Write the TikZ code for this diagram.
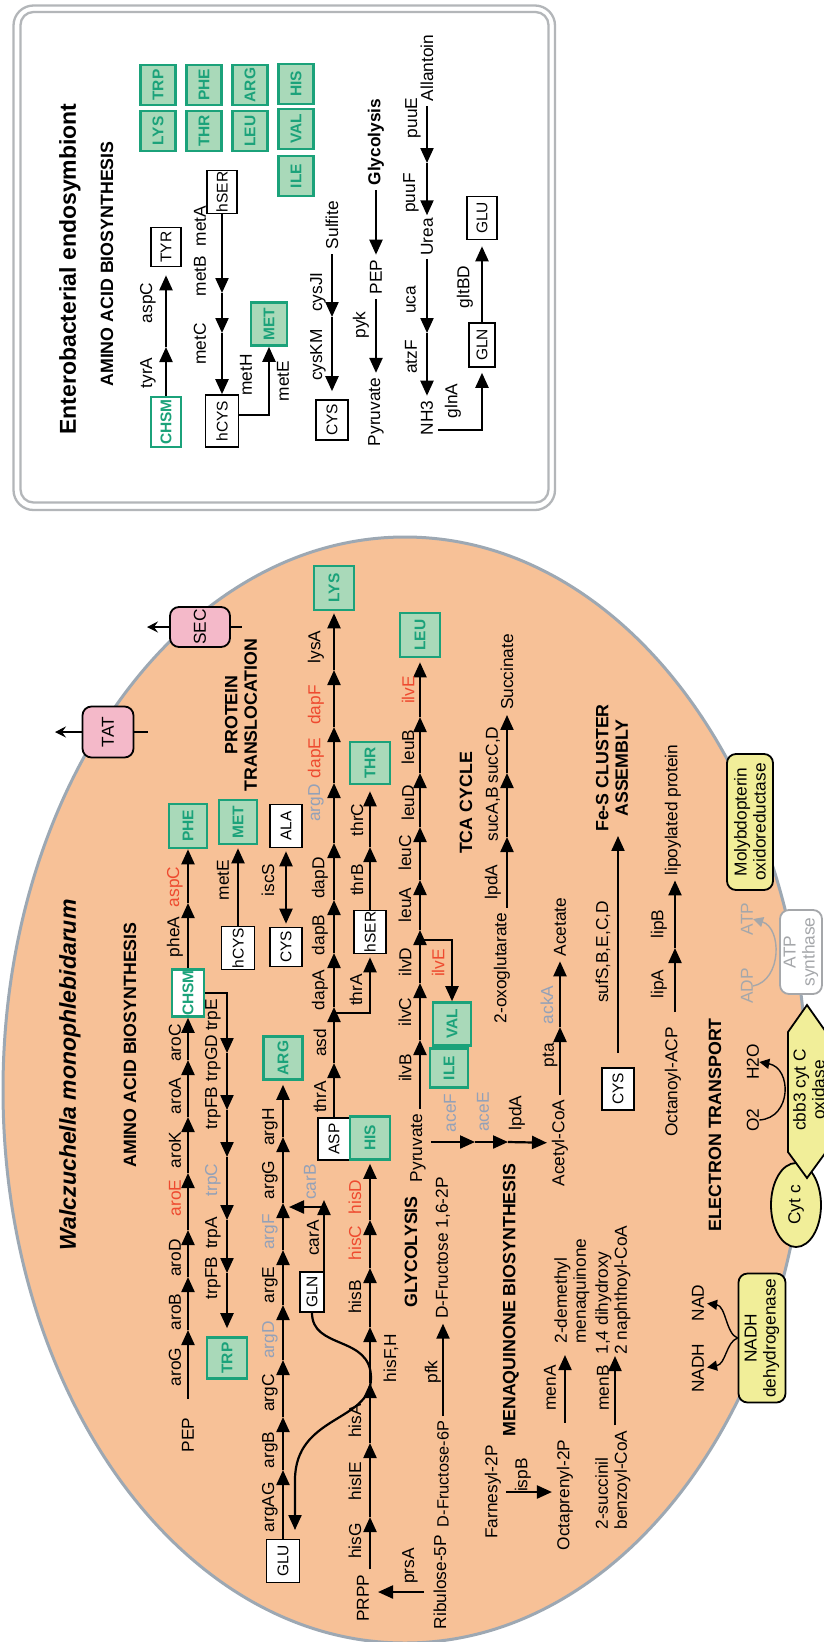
\documentclass[tikz,border=0pt]{standalone}
\usepackage{fontspec}
\setmainfont{Liberation Sans}
\usetikzlibrary{arrows.meta,shapes.geometric}
\definecolor{peach}{HTML}{F7C197}
\definecolor{memb}{HTML}{9DA8B3}
\definecolor{aag}{HTML}{1BA27A}
\definecolor{aaf}{HTML}{A9D9B9}
\definecolor{pinkb}{HTML}{F4B9C9}
\definecolor{yel}{HTML}{F1EE99}
\definecolor{redl}{HTML}{EE4A2F}
\definecolor{grayl}{HTML}{93A1B8}
\definecolor{atpg}{HTML}{A5A7AA}
\definecolor{frm}{HTML}{B3B6B9}
\newcommand\lfs{\fontsize{17.3}{19}\selectfont}
\newcommand\hfs{\fontsize{17.8}{19.5}\selectfont\bfseries}
\newcommand\bfs{\fontsize{15.5}{17}\selectfont}
\begin{document}
\begin{tikzpicture}[x=1pt,y=-1pt,
 lab/.style={rotate=90,inner sep=0pt,font=\lfs},
 mt/.style={lab,outer sep=5pt},
 hd/.style={rotate=90,inner sep=0pt,font=\hfs},
 rl/.style={lab,text=redl},
 gl/.style={lab,text=grayl},
 bx/.style={rotate=90,draw,line width=1.6pt,fill=white,inner sep=0.5pt,font=\bfs},
 aa/.style={rotate=90,draw=aag,line width=2.6pt,fill=aaf,text=aag,inner sep=0.5pt,font=\bfs\bfseries},
 aaw/.style={aa,fill=white},
 pw/.style={line width=2.2pt,-{Triangle[length=15pt,width=13pt]}},
 pwb/.style={line width=2.2pt,{Triangle[length=15pt,width=13pt]}-{Triangle[length=15pt,width=13pt]}},
 ta/.style={line width=1.4pt,-{Triangle[length=10pt,width=10pt]}},
 ex/.style={line width=1.4pt,-{Stealth[length=11pt,width=11pt,inset=4pt]}},
 mem/.style={rotate=90,draw,line width=1.8pt,rounded corners=9pt,inner sep=1pt,font=\lfs,align=center},
 fr/.style={draw=frm,line width=2.3pt},
]
\useasboundingbox (0,0) rectangle (824,1642);
\fill[white] (0,0) rectangle (824,1642);

% ================= INSET =================
\draw[fr,rounded corners=20pt] (13.5,5.5) rectangle (555,510);
\draw[fr,rounded corners=13pt] (20.5,12) rectangle (548.5,502.5);
\node[rotate=90,inner sep=0pt,font=\fontsize{23}{26}\selectfont\bfseries] (endo) at (70,269) {Enterobacterial endosymbiont};
\node[hd] (iaab) at (107,264) {AMINO ACID BIOSYNTHESIS};

\node[aa,minimum width=40pt,minimum height=35pt] (iTRP) at (158,85) {TRP};
\node[aa,minimum width=40pt,minimum height=35pt] (iLYS) at (158,131) {LYS};
\node[aa,minimum width=40pt,minimum height=35pt] (iPHE) at (204,85) {PHE};
\node[aa,minimum width=40pt,minimum height=35pt] (iTHR) at (204,131) {THR};
\node[aa,minimum width=40pt,minimum height=35pt] (iARG) at (250,85) {ARG};
\node[aa,minimum width=40pt,minimum height=35pt] (iLEU) at (250,131) {LEU};
\node[aa,minimum width=40pt,minimum height=35pt] (iHIS) at (296,84) {HIS};
\node[aa,minimum width=40pt,minimum height=35pt] (iVAL) at (296,129) {VAL};
\node[aa,minimum width=40pt,minimum height=35pt] (iILE) at (296,176) {ILE};

% row 1
\node[aaw,minimum width=50pt,minimum height=30pt] (iCHSM) at (166,422) {CHSM};
\node[bx,minimum width=39pt,minimum height=30pt] (iTYR) at (166,247) {TYR};
\coordinate (i1a) at (166,347);
\draw[pw] (iCHSM) -- (i1a);
\draw[pw,shorten >=8pt] (i1a) -- (iTYR);
\node[lab] (l-tyrA) at (148,373) {tyrA};
\node[lab] (l-aspCi) at (148,303) {aspC};
% row 2
\node[bx,minimum width=43pt,minimum height=30pt] (ihSER) at (222,192) {hSER};
\node[bx,minimum width=52pt,minimum height=33pt] (ihCYS) at (222,421) {hCYS};
\coordinate (i2a) at (222,293);
\coordinate (i2b) at (222,333);
\draw[pw] (ihSER) -- (i2a);
\draw[pw] (i2a) -- (i2b);
\draw[pw] (i2b) -- (ihCYS);
\node[lab] (l-metA) at (200,226) {metA};
\node[lab] (l-metB) at (200,276) {metB};
\node[lab] (l-metC) at (200,344) {metC};
\node[aa,minimum width=43pt,minimum height=36pt] (iMET) at (269,324) {MET};
\coordinate (i2c) at (269,415);
\draw[pw] (ihCYS.south |- i2c) -- (i2c) -- (iMET);
\node[lab] (l-metH) at (246,375) {metH};
\node[lab] (l-metEi) at (283,381) {metE};
% row 3
\node[mt] (iSulf) at (332,225) {Sulfite};
\coordinate (i3a) at (332,317);
\node[bx,minimum width=40pt,minimum height=32pt] (iCYS) at (332,420) {CYS};
\draw[pw] (iSulf) -- (i3a);
\draw[pw,shorten >=8pt] (i3a) -- (iCYS);
\node[lab] (l-cysJI) at (318,292) {cysJI};
\node[lab] (l-cysKM) at (318,355) {cysKM};
% row 4
\node[hd,outer sep=5pt,font=\lfs\bfseries] (iGly) at (376,142) {Glycolysis};
\node[mt] (iPEP) at (376,277) {PEP};
\node[mt] (iPyr) at (376,412) {Pyruvate};
\draw[pw] (iGly) -- (iPEP);
\draw[pw] (iPEP) -- (iPyr);
\node[lab] (l-pyk) at (361,325) {pyk};
% row 5
\node[mt] (iAll) at (427,68) {Allantoin};
\coordinate (i5a) at (427,163);
\node[mt,outer sep=3pt] (iUrea) at (427,237) {Urea};
\coordinate (i5b) at (427,333);
\node[mt] (iNH3) at (427,418) {NH3};
\draw[pw] (iAll) -- (i5a);
\draw[pw] (i5a) -- (iUrea);
\draw[pw] (iUrea) -- (i5b);
\draw[pw] (i5b) -- (iNH3);
\node[lab] (l-puuE) at (413,118) {puuE};
\node[lab] (l-puuF) at (411,193) {puuF};
\node[lab] (l-uca) at (411,300) {uca};
\node[lab] (l-atzF) at (411,357) {atzF};
% row 6
\node[bx,minimum width=43pt,minimum height=30pt] (iGLU) at (482,218) {GLU};
\node[bx,minimum width=44pt,minimum height=26pt] (iGLN) at (482,345) {GLN};
\draw[pw,shorten >=6pt] (iGLN) -- (iGLU);
\coordinate (i6a) at (482,430);
\draw[pw,shorten >=5pt] (iNH3.south |- i6a) -- (i6a) -- (iGLN);
\node[lab] (l-gltBD) at (465,287) {gltBD};
\node[lab] (l-glnA) at (453,401) {glnA};

% ================= CELL =================
\node[ellipse,draw=memb,line width=3pt,fill=peach,minimum width=804pt,minimum height=1106pt,inner sep=0pt] (cell) at (405,1090) {};
\node[rotate=90,inner sep=0pt,font=\fontsize{23}{26}\selectfont\bfseries\itshape] (title) at (70,1075) {Walczuchella monophlebidarum};
\node[hd] (aab) at (130,1045) {AMINO ACID BIOSYNTHESIS};
\node[hd,align=center] (ptl) at (241,715) {PROTEIN\\TRANSLOCATION};

% translocation
\node[mem,fill=pinkb,minimum width=51pt,minimum height=51pt] (TAT) at (108,732) {TAT};
\node[mem,fill=pinkb,minimum width=40pt,minimum height=60pt] (SEC) at (200,627) {SEC};
\coordinate (tatO) at (55,732);
\coordinate (tatI) at (148,732);
\coordinate (secO) at (147,627);
\coordinate (secI) at (242,627);
\draw[ex] (TAT) -- (tatO);
\draw[line width=1.4pt] (TAT) -- (tatI);
\draw[ex] (SEC) -- (secO);
\draw[line width=1.4pt] (SEC) -- (secI);

% aro
\node[mt] (PEP) at (188,1435) {PEP};
\coordinate (a1) at (188,1330);
\coordinate (a2) at (188,1277);
\coordinate (a3) at (188,1230);
\coordinate (a4) at (188,1173);
\coordinate (a5) at (188,1117);
\coordinate (a6) at (188,1060);
\node[aaw,minimum width=47pt,minimum height=32pt] (CHSM) at (188,993) {CHSM};
\coordinate (a7) at (188,903);
\node[aa,minimum width=44pt,minimum height=38pt] (PHE) at (188,826) {PHE};
\draw[pw,shorten <=14pt] (PEP) -- (a1);
\draw[pw] (a1) -- (a2);
\draw[pw] (a2) -- (a3);
\draw[pw] (a3) -- (a4);
\draw[pw] (a4) -- (a5);
\draw[pw] (a5) -- (a6);
\draw[pw] (a6) -- (CHSM);
\draw[pw] (CHSM) -- (a7);
\draw[pw] (a7) -- (PHE);
\node[lab] (l-aroG) at (175,1367) {aroG};
\node[lab] (l-aroB) at (175,1312) {aroB};
\node[lab] (l-aroD) at (175,1258) {aroD};
\node[rl] (l-aroE) at (175,1198) {aroE};
\node[lab] (l-aroK) at (175,1150) {aroK};
\node[lab] (l-aroA) at (175,1096) {aroA};
\node[lab] (l-aroC) at (175,1043) {aroC};
\node[lab] (l-pheA) at (175,937) {pheA};
\node[rl] (l-aspC) at (175,887) {aspC};

% trp
\coordinate (b0) at (227,993);
\coordinate (b1) at (227,1053);
\coordinate (b2) at (227,1110);
\coordinate (b3) at (227,1157);
\coordinate (b4) at (227,1220);
\coordinate (b5) at (227,1273);
\node[aa,minimum width=41pt,minimum height=40pt] (TRP) at (227,1358) {TRP};
\draw[pw] (CHSM.south) -- (b0) -- (b1);
\draw[pw] (b1) -- (b2);
\draw[pw] (b2) -- (b3);
\draw[pw] (b3) -- (b4);
\draw[pw] (b4) -- (b5);
\draw[pw,shorten >=8pt] (b5) -- (TRP);
\node[lab] (l-trpE) at (213,1015) {trpE};
\node[lab] (l-trpGD) at (213,1058) {trpGD};
\node[lab] (l-trpFB) at (213,1108) {trpFB};
\node[gl] (l-trpC) at (213,1180) {trpC};
\node[lab] (l-trpA) at (213,1233) {trpA};
\node[lab] (l-trpFB2) at (213,1278) {trpFB};

% met / iscS
\node[bx,minimum width=43pt,minimum height=33pt] (hCYSm) at (238,948) {hCYS};
\node[aa,minimum width=44pt,minimum height=38pt] (METm) at (238,822) {MET};
\draw[pw,shorten >=3pt] (hCYSm) -- (METm);
\node[lab] (l-metE) at (223,880) {metE};
\node[bx,minimum width=39pt,minimum height=32pt] (CYSm) at (286,947) {CYS};
\node[bx,minimum width=43pt,minimum height=32pt] (ALA) at (286,826) {ALA};
\draw[pwb,shorten >=3pt,shorten <=3pt] (CYSm) -- (ALA);
\node[lab] (l-iscS) at (268,880) {iscS};

% arg
\node[bx,minimum width=43pt,minimum height=33pt] (GLU) at (283,1561) {GLU};
\coordinate (c1) at (283,1470);
\coordinate (c2) at (283,1417);
\coordinate (c3) at (283,1360);
\coordinate (c4) at (283,1305);
\coordinate (c5) at (283,1250);
\coordinate (c6) at (283,1203);
\coordinate (c7) at (283,1137);
\node[aa,minimum width=43pt,minimum height=39pt] (ARG) at (283,1058) {ARG};
\draw[pw] (GLU) -- (c1);
\draw[pw] (c1) -- (c2);
\draw[pw] (c2) -- (c3);
\draw[pw] (c3) -- (c4);
\draw[pw] (c4) -- (c5);
\draw[pw] (c5) -- (c6);
\draw[pw] (c6) -- (c7);
\draw[pw,shorten >=4pt] (c7) -- (ARG);
\node[lab] (l-argAG) at (270,1507) {argAG};
\node[lab] (l-argB) at (270,1450) {argB};
\node[lab] (l-argC) at (270,1393) {argC};
\node[gl] (l-argD) at (270,1340) {argD};
\node[lab] (l-argE) at (270,1285) {argE};
\node[gl] (l-argF) at (270,1232) {argF};
\node[lab] (l-argG) at (270,1180) {argG};
\node[lab] (l-argH) at (270,1127) {argH};
% carA / GLN
\node[bx,minimum width=40pt,minimum height=24pt] (GLN) at (312,1292) {GLN};
\coordinate (carT) at (324,1200);
\coordinate (carJ) at (324,1207);
\coordinate (carE) at (289,1207);
\draw[pw] (GLN.east -| carT) -- (carT);
\draw[pw] (carJ) -- (carE);
\node[lab] (l-carA) at (313,1238) {carA};
\node[gl] (l-carB) at (310,1182) {carB};
\coordinate (gluIn) at (295,1530);
\draw[pw] (GLN.west) .. controls (312,1350) and (371,1335) .. (371,1378) .. controls (371,1422) and (295,1415) .. (295,1480) -- (gluIn);

% dap / lys
\node[bx,minimum width=42pt,minimum height=32pt] (ASP) at (334,1139) {ASP};
\coordinate (d1) at (334,1063);
\coordinate (d2) at (334,1007);
\coordinate (d3) at (334,953);
\coordinate (d4) at (334,900);
\coordinate (d5) at (334,843);
\coordinate (d6) at (334,783);
\coordinate (d7) at (334,727);
\coordinate (d8) at (334,670);
\node[aa,minimum width=44pt,minimum height=40pt] (LYS) at (334,588) {LYS};
\draw[pw] (ASP) -- (d1);
\draw[pw] (d1) -- (d2);
\draw[pw] (d2) -- (d3);
\draw[pw] (d3) -- (d4);
\draw[pw] (d4) -- (d5);
\draw[pw] (d5) -- (d6);
\draw[pw] (d6) -- (d7);
\draw[pw] (d7) -- (d8);
\draw[pw,shorten >=2pt] (d8) -- (LYS);
\node[lab] (l-thrA) at (320,1097) {thrA};
\node[lab] (l-asd) at (320,1043) {asd};
\node[lab] (l-dapA) at (320,990) {dapA};
\node[lab] (l-dapB) at (320,935) {dapB};
\node[lab] (l-dapD) at (320,878) {dapD};
\node[gl] (l-argD2) at (316,803) {argD};
\node[rl] (l-dapE) at (316,758) {dapE};
\node[rl] (l-dapF) at (316,705) {dapF};
\node[lab] (l-lysA) at (316,647) {lysA};
% thr
\coordinate (dj) at (334,1013);
\coordinate (dk) at (370,1013);
\node[bx,minimum width=43pt,minimum height=32pt] (hSERm) at (370,932) {hSER};
\draw[pw,shorten >=3pt] (dj) -- (dk) -- (hSERm);
\coordinate (e1) at (370,847);
\node[aa,minimum width=42pt,minimum height=40pt] (THR) at (370,763) {THR};
\draw[pw] (hSERm) -- (e1);
\draw[pw,shorten >=6pt] (e1) -- (THR);
\node[lab] (l-thrA2) at (356,990) {thrA};
\node[lab] (l-thrB) at (357,880) {thrB};
\node[lab] (l-thrC) at (357,820) {thrC};

% his
\node[mt] (PRPP) at (363,1598) {PRPP};
\coordinate (h1) at (370,1517);
\coordinate (h2) at (370,1443);
\coordinate (h3) at (370,1383);
\coordinate (h4) at (370,1327);
\coordinate (h5) at (370,1268);
\coordinate (h6) at (370,1220);
\node[aa,minimum width=43pt,minimum height=40pt] (HIS) at (370,1138) {HIS};
\draw[pw] (PRPP.east -| h1) -- (h1);
\draw[pw] (h1) -- (h2);
\draw[pw] (h2) -- (h3);
\draw[pw] (h3) -- (h4);
\draw[pw] (h4) -- (h5);
\draw[pw] (h5) -- (h6);
\draw[pw,shorten >=3pt] (h6) -- (HIS);
\node[lab] (l-hisG) at (355,1541) {hisG};
\node[lab] (l-hisIE) at (355,1481) {hisIE};
\node[lab] (l-hisA) at (355,1421) {hisA};
\node[lab] (l-hisFH) at (391,1358) {hisF,H};
\node[lab] (l-hisB) at (355,1297) {hisB};
\node[rl] (l-hisC) at (355,1243) {hisC};
\node[rl] (l-hisD) at (355,1197) {hisD};
\node[mt] (Rib) at (440,1582) {Ribulose-5P};
\coordinate (prS) at (424,1592);
\coordinate (prE) at (378,1592);
\draw[pw] (prS) -- (prE);
\node[lab] (l-prsA) at (410,1566) {prsA};

% glycolysis
\node[hd] (glyc) at (411,1252) {GLYCOLYSIS};
\node[mt,font=\fontsize{16.3}{18}\selectfont] (DF6P) at (443,1474) {D-Fructose-6P};
\node[mt] (DF16) at (443,1248) {D-Fructose 1,6-2P};
\draw[pw] (DF6P) -- (DF16);
\node[lab] (l-pfk) at (433,1372) {pfk};

% ilv / leu
\node[mt] (Pyr) at (418,1148) {Pyruvate};
\coordinate (g1) at (420,1040);
\coordinate (g2) at (420,983);
\coordinate (g3) at (420,930);
\coordinate (g4) at (420,880);
\coordinate (g5) at (420,827);
\coordinate (g6) at (420,773);
\coordinate (g7) at (420,717);
\node[aa,minimum width=44pt,minimum height=40pt] (LEU) at (420,635) {LEU};
\draw[pw] (Pyr.east -| g1) -- (g1);
\draw[pw] (g1) -- (g2);
\draw[pw] (g2) -- (g3);
\draw[pw] (g3) -- (g4);
\draw[pw] (g4) -- (g5);
\draw[pw] (g5) -- (g6);
\draw[pw] (g6) -- (g7);
\draw[pw,shorten >=4pt] (g7) -- (LEU);
\node[aa,minimum width=43pt,minimum height=38pt] (VAL) at (452,1024) {VAL};
\node[aa,minimum width=39pt,minimum height=38pt] (ILE) at (449,1068) {ILE};
\coordinate (gj) at (420,940);
\coordinate (gk) at (452,940);
\draw[pw] (gj) -- (gk) -- (VAL);
\node[lab] (l-ilvB) at (405,1068) {ilvB};
\node[lab] (l-ilvC) at (405,1012) {ilvC};
\node[lab] (l-ilvD) at (405,962) {ilvD};
\node[lab] (l-leuA) at (405,905) {leuA};
\node[lab] (l-leuC) at (405,853) {leuC};
\node[lab] (l-leuD) at (408,803) {leuD};
\node[lab] (l-leuB) at (408,747) {leuB};
\node[rl] (l-ilvE) at (408,690) {ilvE};
\node[rl] (l-ilvE2) at (438,963) {ilvE};

% pyruvate dehydrogenase
\coordinate (p1) at (475,1142);
\coordinate (p2) at (508,1142);
\node[mt] (AcCoA) at (560,1143) {Acetyl-CoA};
\draw[pw] (Pyr.south |- p1) -- (p1);
\draw[pw] (p1) -- (p2);
\draw[pw] (p2) -- (AcCoA);
\node[gl] (l-aceF) at (450,1113) {aceF};
\node[gl] (l-aceE) at (483,1112) {aceE};
\node[lab] (l-lpdA) at (517,1113) {lpdA};
\coordinate (p4) at (560,1027);
\node[mt] (Acet) at (560,927) {Acetate};
\draw[pw] (AcCoA) -- (p4);
\draw[pw] (p4) -- (Acet);
\node[lab] (l-pta) at (550,1055) {pta};
\node[gl] (l-ackA) at (547,1005) {ackA};

% TCA
\node[hd] (tca) at (466,803) {TCA CYCLE};
\node[mt] (oxo) at (502,968) {2-oxoglutarate};
\coordinate (t1) at (507,837);
\coordinate (t2) at (507,773);
\node[mt] (Succ) at (507,672) {Succinate};
\draw[pw] (oxo.east -| t1) -- (t1);
\draw[pw] (t1) -- (t2);
\draw[pw] (t2) -- (Succ);
\node[lab] (l-lpdA2) at (493,882) {lpdA};
\node[lab] (l-sucAB) at (493,814) {sucA,B};
\node[lab] (l-sucCD) at (493,755) {sucC,D};

% menaquinone
\node[hd] (menq) at (511,1300) {MENAQUINONE BIOSYNTHESIS};
\node[mt] (Farn) at (493,1492) {Farnesyl-2P};
\node[mt] (Oct) at (565,1495) {Octaprenyl-2P};
\draw[pw] (Farn.south) -- (Farn.south -| Oct.north);
\node[lab] (l-ispB) at (523,1475) {ispB};
\node[lab,align=left] (dmq) at (572,1291) {2-demethyl\\menaquinone};
\coordinate (mA) at (565,1355);
\draw[pw,shorten <=12pt] (Oct) -- (mA);
\node[lab] (l-menA) at (550,1388) {menA};
\node[mt,align=left] (suc) at (613,1480) {2-succinil\\benzoyl-CoA};
\node[lab,align=left] (dhn) at (613,1290) {1,4 dihydroxy\\2 naphthoyl-CoA};
\coordinate (mB) at (615,1356);
\draw[pw] (suc.east -| mB) -- (mB);
\node[lab] (l-menB) at (603,1388) {menB};

% Fe-S
\node[bx,minimum width=42pt,minimum height=32pt] (CYS2) at (618,1089) {CYS};
\node[hd,align=center] (fes) at (612,768) {Fe-S CLUSTER\\ASSEMBLY};
\draw[pw,shorten <=14pt,shorten >=4pt] (CYS2) -- (CYS2 |- fes.west);
\node[lab] (l-suf) at (603,952) {sufS,B,E,C,D};

% lipoate
\node[mt] (oct) at (673,1082) {Octanoyl-ACP};
\node[mt] (lipP) at (673,810) {lipoylated protein};
\coordinate (l1) at (675,948);
\draw[pw,shorten <=10pt] (oct.east -| l1) -- (l1);
\draw[pw] (l1) -- (l1 |- lipP.west);
\node[lab] (l-lipA) at (659,984) {lipA};
\node[lab] (l-lipB) at (659,924) {lipB};

% electron transport
\node[hd] (etr) at (715,1125) {ELECTRON TRANSPORT};
\node[mem,fill=yel,minimum width=129pt,minimum height=47pt] (ndh) at (762,1338) {NADH\\dehydrogenase};
\node[lab] (nadh) at (698,1368) {NADH};
\node[lab] (nad) at (698,1303) {NAD};
\draw[ta,shorten >=3pt] (ndh.north) .. controls (726,1342) and (726,1364) .. (nadh.south);
\draw[ta,shorten >=3pt] (ndh.north) .. controls (726,1334) and (726,1306) .. (nad.south);
\node[rotate=90,ellipse,draw,line width=1.8pt,fill=yel,minimum width=84pt,minimum height=50pt,inner sep=0pt,font=\lfs] (cytc) at (796,1205) {Cyt c};
\draw[line width=1.8pt,fill=yel] (788,1032) -- (807,1005) -- (826,1032) -- (826,1152) -- (807,1178) -- (788,1152) -- cycle;
\node[lab,align=center] (cbb) at (809,1090) {cbb3 cyt C\\oxidase};
\node[lab] (o2) at (753,1120) {O2};
\node[lab] (h2o) at (753,1062) {H2O};
\draw[ta] (o2.south) .. controls (792,1118) and (792,1068) .. (h2o.south);
\node[mem,draw=atpg,text=atpg,fill=white,minimum width=84pt,minimum height=42pt] (atps) at (801,952) {ATP\\synthase};
\node[lab,text=atpg] (adp) at (747,986) {ADP};
\node[lab,text=atpg] (atp) at (747,919) {ATP};
\draw[ta,atpg] (adp.south) .. controls (782,980) and (782,928) .. (atp.south);
\node[mem,fill=yel,minimum width=136pt,minimum height=46pt] (moly) at (750,822) {Molybdopterin\\oxidoreductase};
\end{tikzpicture}
\end{document}
